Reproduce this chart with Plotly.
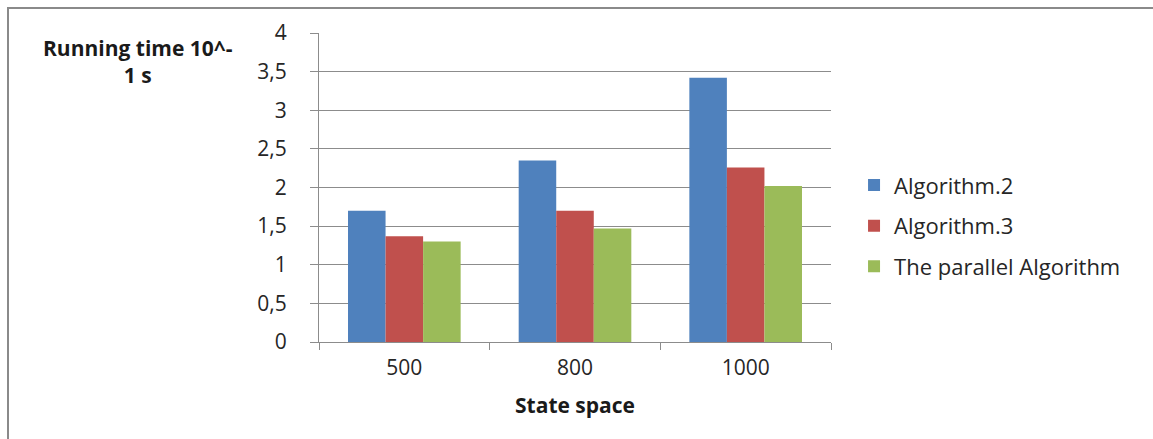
import plotly.graph_objects as go

# Running time of the three algorithms per state-space size (units of 10^-1 s)
state_space = ["500", "800", "1000"]
algorithm_2 = [1.70, 2.35, 3.42]
algorithm_3 = [1.37, 1.70, 2.26]
parallel_algorithm = [1.30, 1.47, 2.02]

series_names = ["Algorithm.2", "Algorithm.3", "The parallel Algorithm"]
series_colors = ["#4F81BD", "#C0504D", "#9BBB59"]

y_ticks = [0, 0.5, 1, 1.5, 2, 2.5, 3, 3.5, 4]
y_tick_text = ["0", "0,5", "1", "1,5", "2", "2,5", "3", "3,5", "4"]

font_family = "Open Sans, Noto Sans, sans-serif"
text_color = "#262626"
grid_color = "#8C8C8C"

fig = go.Figure()
for name, values, color in zip(series_names,
                               [algorithm_2, algorithm_3, parallel_algorithm],
                               series_colors):
    fig.add_trace(go.Bar(
        x=state_space, y=values, name=name, legendgroup=name,
        marker=dict(color=color, line=dict(width=0)),
    ))

fig.update_layout(
    width=1153, height=439,
    margin=dict(l=319, r=322, t=33, b=97),
    paper_bgcolor="white", plot_bgcolor="white",
    barmode="group", bargap=0.34, bargroupgap=0,
    font=dict(family=font_family, size=21, color=text_color),
    showlegend=True,
    legend=dict(
        x=1.045, xanchor="left", y=0.376, yanchor="middle",
        font=dict(size=22, color=text_color),
        tracegroupgap=9, itemwidth=30,
        bgcolor="rgba(0,0,0,0)",
    ),
    xaxis=dict(
        type="category", tickson="boundaries",
        ticks="outside", ticklen=7, tickcolor=grid_color,
        showline=True, linecolor=grid_color, linewidth=1,
        showgrid=False, ticklabelstandoff=7,
        tickfont=dict(size=21, color=text_color),
        title=dict(text="<b>State space</b>", font=dict(size=21, color="#1a1a1a"), standoff=18),
    ),
    yaxis=dict(
        range=[0, 4], tickvals=y_ticks, ticktext=y_tick_text,
        ticks="outside", ticklen=8, tickcolor=grid_color,
        showline=True, linecolor=grid_color, linewidth=1,
        showgrid=True, gridcolor=grid_color, gridwidth=1,
        zeroline=False, ticklabelstandoff=19,
        tickfont=dict(size=21, color=text_color),
    ),
    annotations=[
        dict(
            text="<b>Running time 10^-<br>1 s</b>",
            xref="paper", yref="paper",
            x=-0.3535, y=0.908, xanchor="center", yanchor="middle",
            showarrow=False, align="center",
            font=dict(size=21, color="#1a1a1a"),
        )
    ],
    shapes=[
        dict(
            type="rect", xref="paper", yref="paper",
            x0=-311 / 512, x1=1.8, y0=-0.5, y1=(33 - 8) / 308.5 + 1,
            line=dict(color="#8A8A8A", width=2), fillcolor="rgba(0,0,0,0)",
            layer="below",
        )
    ],
)

fig.write_html("out.html")
